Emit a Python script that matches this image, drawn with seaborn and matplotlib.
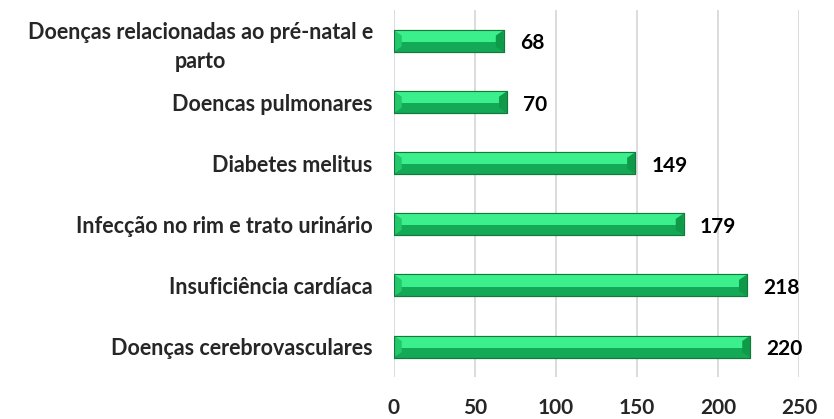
import pandas as pd
import seaborn as sns
import matplotlib.pyplot as plt
from matplotlib.patches import Rectangle, Polygon

causes = [
    'Doenças relacionadas ao pré-natal e\nparto',
    'Doencas pulmonares',
    'Diabetes melitus',
    'Infecção no rim e trato urinário',
    'Insuficiência cardíaca',
    'Doenças cerebrovasculares',
]
counts = [68, 70, 149, 179, 218, 220]
x_ticks = [0, 50, 100, 150, 200, 250]

df = pd.DataFrame({'causa': causes, 'n': counts})

sns.set_style('white')
plt.rcParams['font.family'] = ['Lato', 'DejaVu Sans']

fig, ax = plt.subplots(figsize=(8.34, 4.19), dpi=100)
sns.barplot(data=df, y='causa', x='n', orient='h', color='#14a956',
            width=0.36, edgecolor='#137a3c', linewidth=0.8, saturation=1, ax=ax)

# bevel look: light upper face, darker lower face, light left wedge
for p in ax.patches[:len(counts)]:
    x0, y0, w, h = p.get_x(), p.get_y(), p.get_width(), p.get_height()
    ax.add_patch(Rectangle((x0, y0), w, h * 0.55, facecolor='#3bf08c',
                           edgecolor='none', zorder=p.get_zorder() + 0.1))
    d = h * 0.25
    ax.add_patch(Polygon([(x0, y0), (x0 + 5, y0 + d), (x0 + 5, y0 + h - d), (x0, y0 + h)],
                         closed=True, facecolor='#22c86a', edgecolor='none',
                         zorder=p.get_zorder() + 0.2))
    ax.add_patch(Polygon([(x0 + w, y0), (x0 + w - 5, y0 + d), (x0 + w - 5, y0 + h - d), (x0 + w, y0 + h)],
                         closed=True, facecolor='#0f9a4a', edgecolor='none',
                         zorder=p.get_zorder() + 0.2))
    ax.add_patch(Rectangle((x0, y0), w, h, facecolor='none', edgecolor='#137a3c',
                           linewidth=0.8, zorder=p.get_zorder() + 0.3))
    ax.text(x0 + w + 10, y0 + h * 0.5 + 0.04, f'{int(w)}', va='center', ha='left',
            fontsize=15, fontweight='bold', color='black')

ax.set_xlim(0, 250)
ax.set_xticks(x_ticks)
ax.set_yticks(range(len(causes)))
ax.set_yticklabels(causes)
ax.set_ylim(5.5, -0.5)
ax.set_xlabel('')
ax.set_ylabel('')
ax.grid(axis='x', color='#d9d9d9', linewidth=1.3)
ax.set_axisbelow(True)
for s in ax.spines.values():
    s.set_visible(False)
ax.tick_params(axis='both', length=0)
ax.tick_params(axis='x', pad=15, labelsize=15)
ax.tick_params(axis='y', pad=15, labelsize=15.5)

fig.subplots_adjust(left=0.472, right=0.958, top=0.975, bottom=0.1)
fig.canvas.draw()
for lab in ax.get_xticklabels() + ax.get_yticklabels():
    lab.set_fontweight('bold')
for lab in ax.get_yticklabels():
    lab.set_multialignment('center')
    lab.set_linespacing(1.45)
fig.savefig('out.png', dpi=100)
